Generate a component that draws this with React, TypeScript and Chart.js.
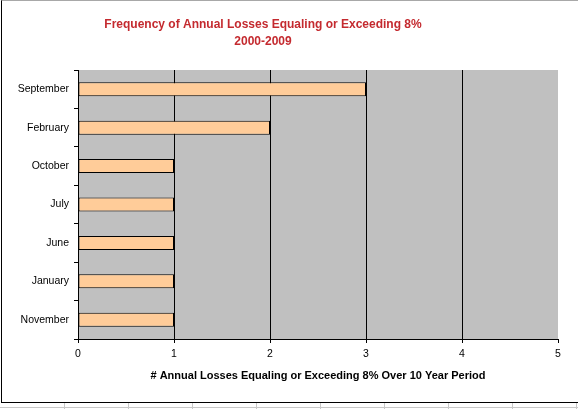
import React, { useEffect, useRef } from 'react';
import { Chart, registerables } from 'chart.js';

Chart.register(...registerables);

const titleLines = ['Frequency of Annual Losses Equaling or Exceeding 8%', '2000-2009'];
const xAxisTitle = '# Annual Losses Equaling or Exceeding 8% Over 10 Year Period';
const months = ['September', 'February', 'October', 'July', 'June', 'January', 'November'];
const lossCounts = [3, 2, 1, 1, 1, 1, 1];
const xMin = 0;
const xMax = 5;
const xStep = 1;

const FONT = '"Liberation Sans", Arial, sans-serif';

export default function App() {
  const ref = useRef<HTMLCanvasElement>(null);

  useEffect(() => {
    document.body.style.margin = '0';
    const canvas = ref.current;
    if (!canvas) return;

    const plotBg = {
      id: 'plotBg',
      beforeDraw(chart: any) {
        const { ctx, chartArea } = chart;
        ctx.save();
        ctx.fillStyle = '#C0C0C0';
        ctx.fillRect(chartArea.left, chartArea.top, chartArea.right - chartArea.left, chartArea.bottom - chartArea.top);
        ctx.restore();
      },
    };
    const shiftTitle = {
      id: 'shiftTitle',
      afterLayout(chart: any) {
        const t = chart.titleBlock;
        if (t) {
          t.left = 0;
          t.right = 526;
        }
      },
    };

    const chart = new Chart(canvas, {
      type: 'bar',
      data: {
        labels: months,
        datasets: [
          {
            data: lossCounts,
            backgroundColor: '#FFCC99',
            borderColor: '#000000',
            borderWidth: 1,
            borderSkipped: false,
            barPercentage: 0.3636,
            categoryPercentage: 1,
          },
        ],
      },
      options: {
        indexAxis: 'y',
        responsive: false,
        animation: false,
        devicePixelRatio: 1,
        layout: { padding: { left: 0, right: 20, top: 0, bottom: 0 } },
        plugins: {
          legend: { display: false },
          tooltip: { enabled: false },
          title: {
            display: true,
            text: titleLines,
            color: '#C42A2F',
            font: { family: FONT, size: 12, weight: 'bold', lineHeight: '17px' },
            padding: { top: 16, bottom: 20 },
          },
        },
        scales: {
          x: {
            type: 'linear',
            min: xMin,
            max: xMax,
            ticks: {
              stepSize: xStep,
              color: '#000000',
              font: { family: FONT, size: 10.5 },
              padding: 5,
            },
            grid: {
              color: (c: any) => (c.tick && c.tick.value === xMax ? 'rgba(0,0,0,0)' : '#000000'),
              tickColor: '#000000',
              tickLength: 4,
              lineWidth: 1,
            },
            border: { display: true, color: '#000000', width: 1 },
            title: {
              display: true,
              text: xAxisTitle,
              color: '#000000',
              font: { family: FONT, size: 11, weight: 'bold' },
              padding: { top: 0, bottom: 26 },
            },
            afterFit(scale: any) {
              scale.height = 70;
            },
          },
          y: {
            type: 'category',
            ticks: {
              color: '#000000',
              font: { family: FONT, size: 10.5 },
              padding: 5,
            },
            grid: {
              offset: true,
              drawOnChartArea: false,
              color: '#000000',
              tickColor: '#000000',
              tickLength: 4,
            },
            border: { display: true, color: '#000000', width: 1 },
            afterFit(scale: any) {
              scale.width = 78;
            },
          },
        },
      },
      plugins: [plotBg, shiftTitle],
    } as any);

    return () => chart.destroy();
  }, []);

  const cellLines = [64, 128, 192, 256, 320, 384, 448, 512, 576];

  return (
    <div style={{ position: 'absolute', left: 0, top: 0, width: 578, height: 409, background: '#ffffff', overflow: 'hidden' }}>
      <div
        style={{
          position: 'absolute',
          left: 1,
          top: 0,
          width: 577,
          height: 401,
          borderLeft: '1px solid #000',
          borderTop: '1px solid #a8a8a8',
          borderBottom: '1px solid #000',
          boxSizing: 'content-box',
        }}
      />
      <div style={{ position: 'absolute', left: 0, top: 407, width: 578, height: 1, background: '#c8c8c8' }} />
      {cellLines.map((x) => (
        <div key={x} style={{ position: 'absolute', left: x, top: 403, width: 1, height: 6, background: '#c8c8c8' }} />
      ))}
      <canvas ref={ref} width={578} height={409} style={{ position: 'absolute', left: 0, top: 0 }} />
    </div>
  );
}
